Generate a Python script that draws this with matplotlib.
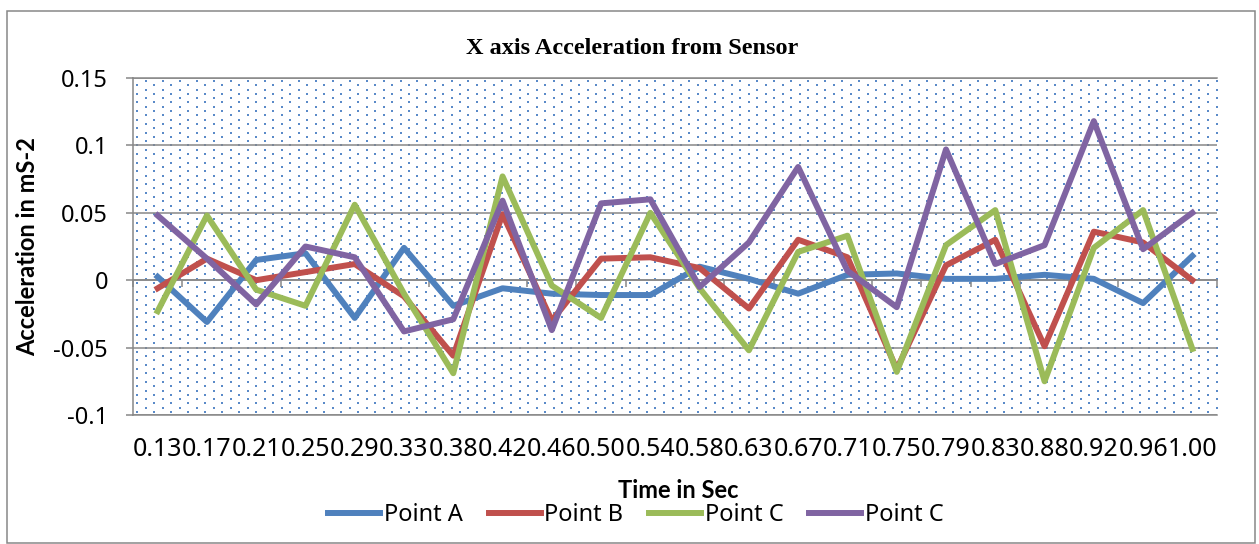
"""X axis acceleration from sensor, four measuring points."""

import matplotlib

matplotlib.use("Agg")
import matplotlib.pyplot as plt
import numpy as np
from matplotlib.patches import Rectangle

time_labels = ["0.13", "0.17", "0.21", "0.25", "0.29", "0.33", "0.38", "0.42",
               "0.46", "0.50", "0.54", "0.58", "0.63", "0.67", "0.71", "0.75",
               "0.79", "0.83", "0.88", "0.92", "0.96", "1.00"]

point_a = [0.0025, -0.031, 0.015, 0.020, -0.028, 0.024, -0.019, -0.006, -0.010,
           -0.011, -0.011, 0.010, 0.001, -0.010, 0.004, 0.005, 0.001, 0.001,
           0.004, 0.001, -0.017, 0.018]
point_b = [-0.006, 0.016, 0.000, 0.006, 0.012, -0.012, -0.056, 0.049, -0.030,
           0.016, 0.017, 0.009, -0.021, 0.030, 0.017, -0.066, 0.011, 0.030,
           -0.049, 0.036, 0.028, 0.000]
point_c = [-0.023, 0.048, -0.007, -0.019, 0.056, -0.010, -0.069, 0.077, -0.004,
           -0.028, 0.050, -0.006, -0.052, 0.021, 0.033, -0.068, 0.026, 0.052,
           -0.075, 0.024, 0.052, -0.051]
point_c2 = [0.048, 0.016, -0.018, 0.025, 0.017, -0.038, -0.029, 0.059, -0.037,
            0.057, 0.060, -0.005, 0.028, 0.084, 0.007, -0.020, 0.097, 0.012,
            0.026, 0.118, 0.023, 0.050]

series_names = ["Point A", "Point B", "Point C", "Point C"]
series_colors = ["#4f81bd", "#c0504d", "#9bbb59", "#8064a2"]

y_ticks = [-0.1, -0.05, 0, 0.05, 0.1, 0.15]
y_tick_labels = ["-0.1", "-0.05", "0", "0.05", "0.1", "0.15"]

GRID = "#878787"
W, H = 1259, 544
BOLD_FONT = ["Lato", "DejaVu Sans"]

plt.rcParams["font.family"] = ["Noto Sans", "DejaVu Sans"]

fig = plt.figure(figsize=(W / 100, H / 100), dpi=100)
ax = fig.add_axes([133 / W, 1 - 415 / H, (1217 - 133) / W, (415 - 78) / H])

# dotted fill of the plot area
cols = np.arange(4 / 1084, 1, 17 / 1084)
rows = np.arange(3 / 337, 1, 4.3 / 337)
dx, dy = [], []
for i, r in enumerate(rows):
    shift = (8.5 / 1084) if i % 2 else 0
    xs = cols + shift
    xs = xs[xs < 1]
    dx.extend(xs)
    dy.extend([r] * len(xs))
ax.scatter(dx, dy, s=1.8, marker="s", color="#5a8ac8", linewidths=0,
           transform=ax.transAxes, zorder=0)

x = np.arange(len(time_labels))
for values, name, color in zip([point_a, point_b, point_c, point_c2],
                               series_names, series_colors):
    ax.plot(x, values, color=color, lw=4.3, label=name, zorder=3)

ax.set_xlim(-0.5, len(time_labels) - 0.5)
ax.set_ylim(-0.1, 0.15)
ax.set_yticks(y_ticks)
ax.set_yticklabels(y_tick_labels)
ax.set_xticks(x)
ax.set_xticklabels(time_labels)
ax.tick_params(axis="x", length=0, pad=16, labelsize=18)
ax.tick_params(axis="y", length=5, width=1.1, color=GRID, pad=13, labelsize=17)
ax.grid(axis="y", color=GRID, lw=1.1, zorder=1)
ax.set_axisbelow(True)
for side in ["top", "bottom", "left"]:
    ax.spines[side].set_color(GRID)
    ax.spines[side].set_linewidth(1.1)
ax.spines["right"].set_visible(False)

# category axis crossing at zero, ticks between categories
zero_axis = ax.secondary_xaxis(0.4)
zero_axis.set_xticks(np.arange(-0.5, len(time_labels), 1))
zero_axis.tick_params(axis="x", direction="out", length=5, width=1.1,
                      color=GRID, labelbottom=False)
zero_axis.spines["bottom"].set_color(GRID)
zero_axis.spines["bottom"].set_linewidth(1.1)

ax.set_ylabel("Acceleration in mS-2", family=BOLD_FONT, fontsize=17,
              fontweight="bold")
ax.yaxis.set_label_coords((39 - 133) / (1217 - 133), 0.5)
fig.text(678 / W, 1 - 490 / H, "Time in Sec", family=BOLD_FONT, fontsize=17,
         fontweight="bold", ha="center", va="center")
fig.text(632 / W, 1 - 48 / H, "X axis Acceleration from Sensor",
         family=["Liberation Serif", "DejaVu Serif"], fontsize=17.5,
         fontweight="bold", ha="center", va="center")

fig.legend(loc="center", bbox_to_anchor=(636 / W, 1 - 515 / H), ncol=4,
           frameon=False, fontsize=17, handlelength=2.2, handletextpad=0.15,
           columnspacing=1.1)

fig.patches.append(Rectangle((7 / W, 1 / H), 1248 / W, 532 / H, fill=False,
                             edgecolor=GRID, lw=1.1, transform=fig.transFigure))

fig.savefig("out.png", dpi=100)
